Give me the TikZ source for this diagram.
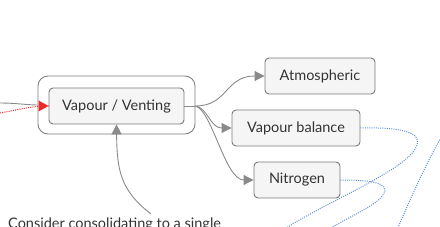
\documentclass[tikz,border=0pt]{standalone}
\usepackage{fontspec}
\setmainfont{Lato}
\usetikzlibrary{arrows.meta}
\definecolor{boxline}{HTML}{7A7A7A}
\definecolor{boxfill}{HTML}{F5F5F5}
\definecolor{txt}{HTML}{333333}
\definecolor{conn}{HTML}{8A8A8A}
\definecolor{bluedot}{HTML}{5B8FE0}
\definecolor{reddot}{HTML}{F02828}
\tikzset{
  topic/.style={draw=boxline, fill=boxfill, rounded corners=4pt, line width=0.9pt,
    minimum height=36pt, inner sep=0pt, font=\fontsize{14.5}{16}\selectfont, text=txt},
  outerbox/.style={draw=boxline, rounded corners=10pt, line width=0.8pt, inner sep=0pt},
  connline/.style={draw=conn, line width=0.9pt},
  conarrow/.style={connline, -{Triangle[length=10pt,width=10pt]}},
  bluelink/.style={draw=bluedot, line width=1pt, dash pattern=on 1pt off 1.2pt},
  redlink/.style={draw=reddot, line width=1pt, dash pattern=on 1pt off 1.2pt},
  note/.style={font=\fontsize{14.5}{16}\selectfont, text=txt, anchor=north west, inner sep=0pt}
}
\begin{document}
\begin{tikzpicture}[x=1pt,y=-1pt]
\useasboundingbox (0,0) rectangle (440,227);
\clip (0,0) rectangle (440,227);
% nodes
\node[outerbox, minimum width=157pt, minimum height=58pt] (outer) at (116.5,105) {};
\node[topic, minimum width=135pt] (vent) at (116.5,106) {Vapour / Venting};
\node[topic, minimum width=110pt] (atm) at (320,76) {Atmospheric};
\node[topic, minimum width=128pt] (vb) at (296,128) {Vapour balance};
\node[topic, minimum width=86pt] (nit) at (297,180) {Nitrogen};
\node[note] (cons) at (8,218) {Consider consolidating to a single};
% coordinates
\coordinate (br) at (outer.east |- vent.east);
\coordinate (leftgray) at (0,103);
\coordinate (leftred) at (0,113);
\coordinate (notestart) at (151,214);
\coordinate (b1end) at (280,232);
\coordinate (b2end) at (325,232);
\coordinate (b3start) at (443,134);
\coordinate (b3end) at (396,232);
% connectors
\draw[connline] (vent.east) -- (br);
\draw[conarrow] (br) .. controls (228,106) and (225,76) .. (atm.west);
\draw[conarrow] (br) .. controls (208,108) and (210,128) .. (vb.west);
\draw[conarrow] (br) .. controls (212,110) and (225,180) .. (nit.west);
\draw[conarrow] (notestart) .. controls (120,190) and (117,170) .. (vent.south);
\draw[connline] (leftgray) .. controls (15,103) and (28,105) .. (outer.west);
\draw[redlink] (leftred) .. controls (18,110) and (30,106) .. (vent.west);
\fill[reddot] (vent.west) -- ++(-10,-5.5) -- ++(0,11) -- cycle;
% blue relationship lines
\draw[bluelink] (vb.east) .. controls (405,127) and (428,133) .. (413,152) .. controls (395,175) and (320,205) .. (b1end);
\draw[bluelink] (nit.east) .. controls (368,180) and (392,182) .. (383,195) .. controls (375,207) and (345,218) .. (b2end);
\draw[bluelink] (b3start) .. controls (425,165) and (410,200) .. (b3end);
\end{tikzpicture}
\end{document}
